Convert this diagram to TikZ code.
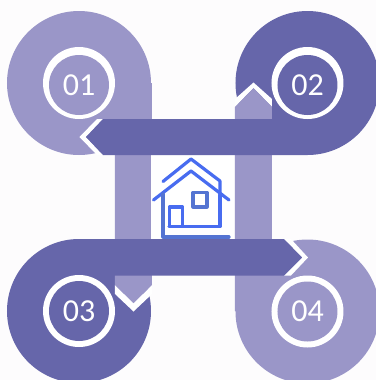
\documentclass[tikz,border=0pt]{standalone}
\usepackage{fontspec}
\setmainfont{Carlito}
\usepackage{xcolor}
\usepackage{tikz}
\usetikzlibrary{
	calc,
	positioning
}
\definecolor{LightPurple}{RGB}{154,150,200}
\definecolor{DarkPurple}{RGB}{102,102,170}
\definecolor{PageWhite}{RGB}{253,252,253}
\definecolor{IconBlue}{RGB}{72,108,240}
\definecolor{IconSlate}{RGB}{84,116,210}
\tikzset{
	stepnum/.style={circle, minimum size=45pt, fill=#1, text=white, font=\fontsize{24}{26}\selectfont, inner sep=0pt},
	iconline/.style={draw=IconBlue, line width=2.4pt, line cap=round, line join=round},
	iconlow/.style={draw=IconSlate, line width=2.4pt, line cap=round, line join=round}
}
\begin{document}
\begin{tikzpicture}[x=0.75pt, y=-0.75pt]
		\clip (0,0) rectangle (376,380);
		\fill[PageWhite] (0,0) rectangle (376,380);
		\coordinate (A) at (79,83);
		\coordinate (B) at (307.5,83);
		\coordinate (C) at (79,311);
		\coordinate (D) at (307.5,311.5);
		% dark discs first
		\fill[DarkPurple] (B) circle (72);
		\fill[DarkPurple] (C) circle (72);
		% light discs and bars
		\fill[LightPurple] (A) circle (72);
		\fill[LightPurple] (D) circle (72);
		\fill[white] (115,285) -- (133.5,303) -- (152,285) -- (152,294) -- (133.5,311.5) -- (115,294) -- cycle;
		\fill[LightPurple] (115,83) -- (152,83) -- (152,285) -- (133.5,303) -- (115,285) -- cycle;
		\fill[white] (235,107) -- (253.5,88) -- (272,107) -- (272,99) -- (253.5,82.5) -- (235,99) -- cycle;
		\fill[LightPurple] (235,311) -- (272,311) -- (272,107) -- (253.5,88) -- (235,107) -- cycle;
		% centre panel
		\fill[white] (151,155) rectangle (234,239);
		% dark bands with white chevrons
		\fill[white] (103,119) -- (86,137) -- (103,155) -- (97,155) -- (79.5,137) -- (97,119) -- cycle;
		\fill[DarkPurple] (307.5,119) -- (103,119) -- (86,137) -- (103,155) -- (307.5,155) -- cycle;
		\fill[white] (284,239) -- (302,257.5) -- (284,275.5) -- (291,275.5) -- (308,257.5) -- (291,239) -- cycle;
		\fill[DarkPurple] (79,239) -- (284,239) -- (302,257.5) -- (284,275.5) -- (79,275.5) -- cycle;
		% rings
		\fill[white] (A) circle (36);
		\fill[white] (B) circle (36);
		\fill[white] (C) circle (36);
		\fill[white] (D) circle (36);
		\node[stepnum=LightPurple] (n01) at ($(A)+(0,2)$) {01};
		\node[stepnum=DarkPurple] (n02) at ($(B)+(0,2)$) {02};
		\node[stepnum=DarkPurple] (n03) at (C) {03};
		\node[stepnum=LightPurple] (n04) at (D) {04};
		% house
		\draw[iconline] (163,181.5) -- (191,159) -- (220,181) -- (220,195);
		\draw[iconline] (153.5,200) -- (191,171) -- (229,200);
		\draw[iconlow] (163,194) -- (163,237) -- (229,237);
		\draw[iconline] (220,195) -- (220,226.5) -- (169,226.5);
		\draw[iconline] (169.5,207) rectangle (182.5,226.5);
		\draw[iconlow] (193,192.5) rectangle (207,207);
	\end{tikzpicture}
\end{document}
